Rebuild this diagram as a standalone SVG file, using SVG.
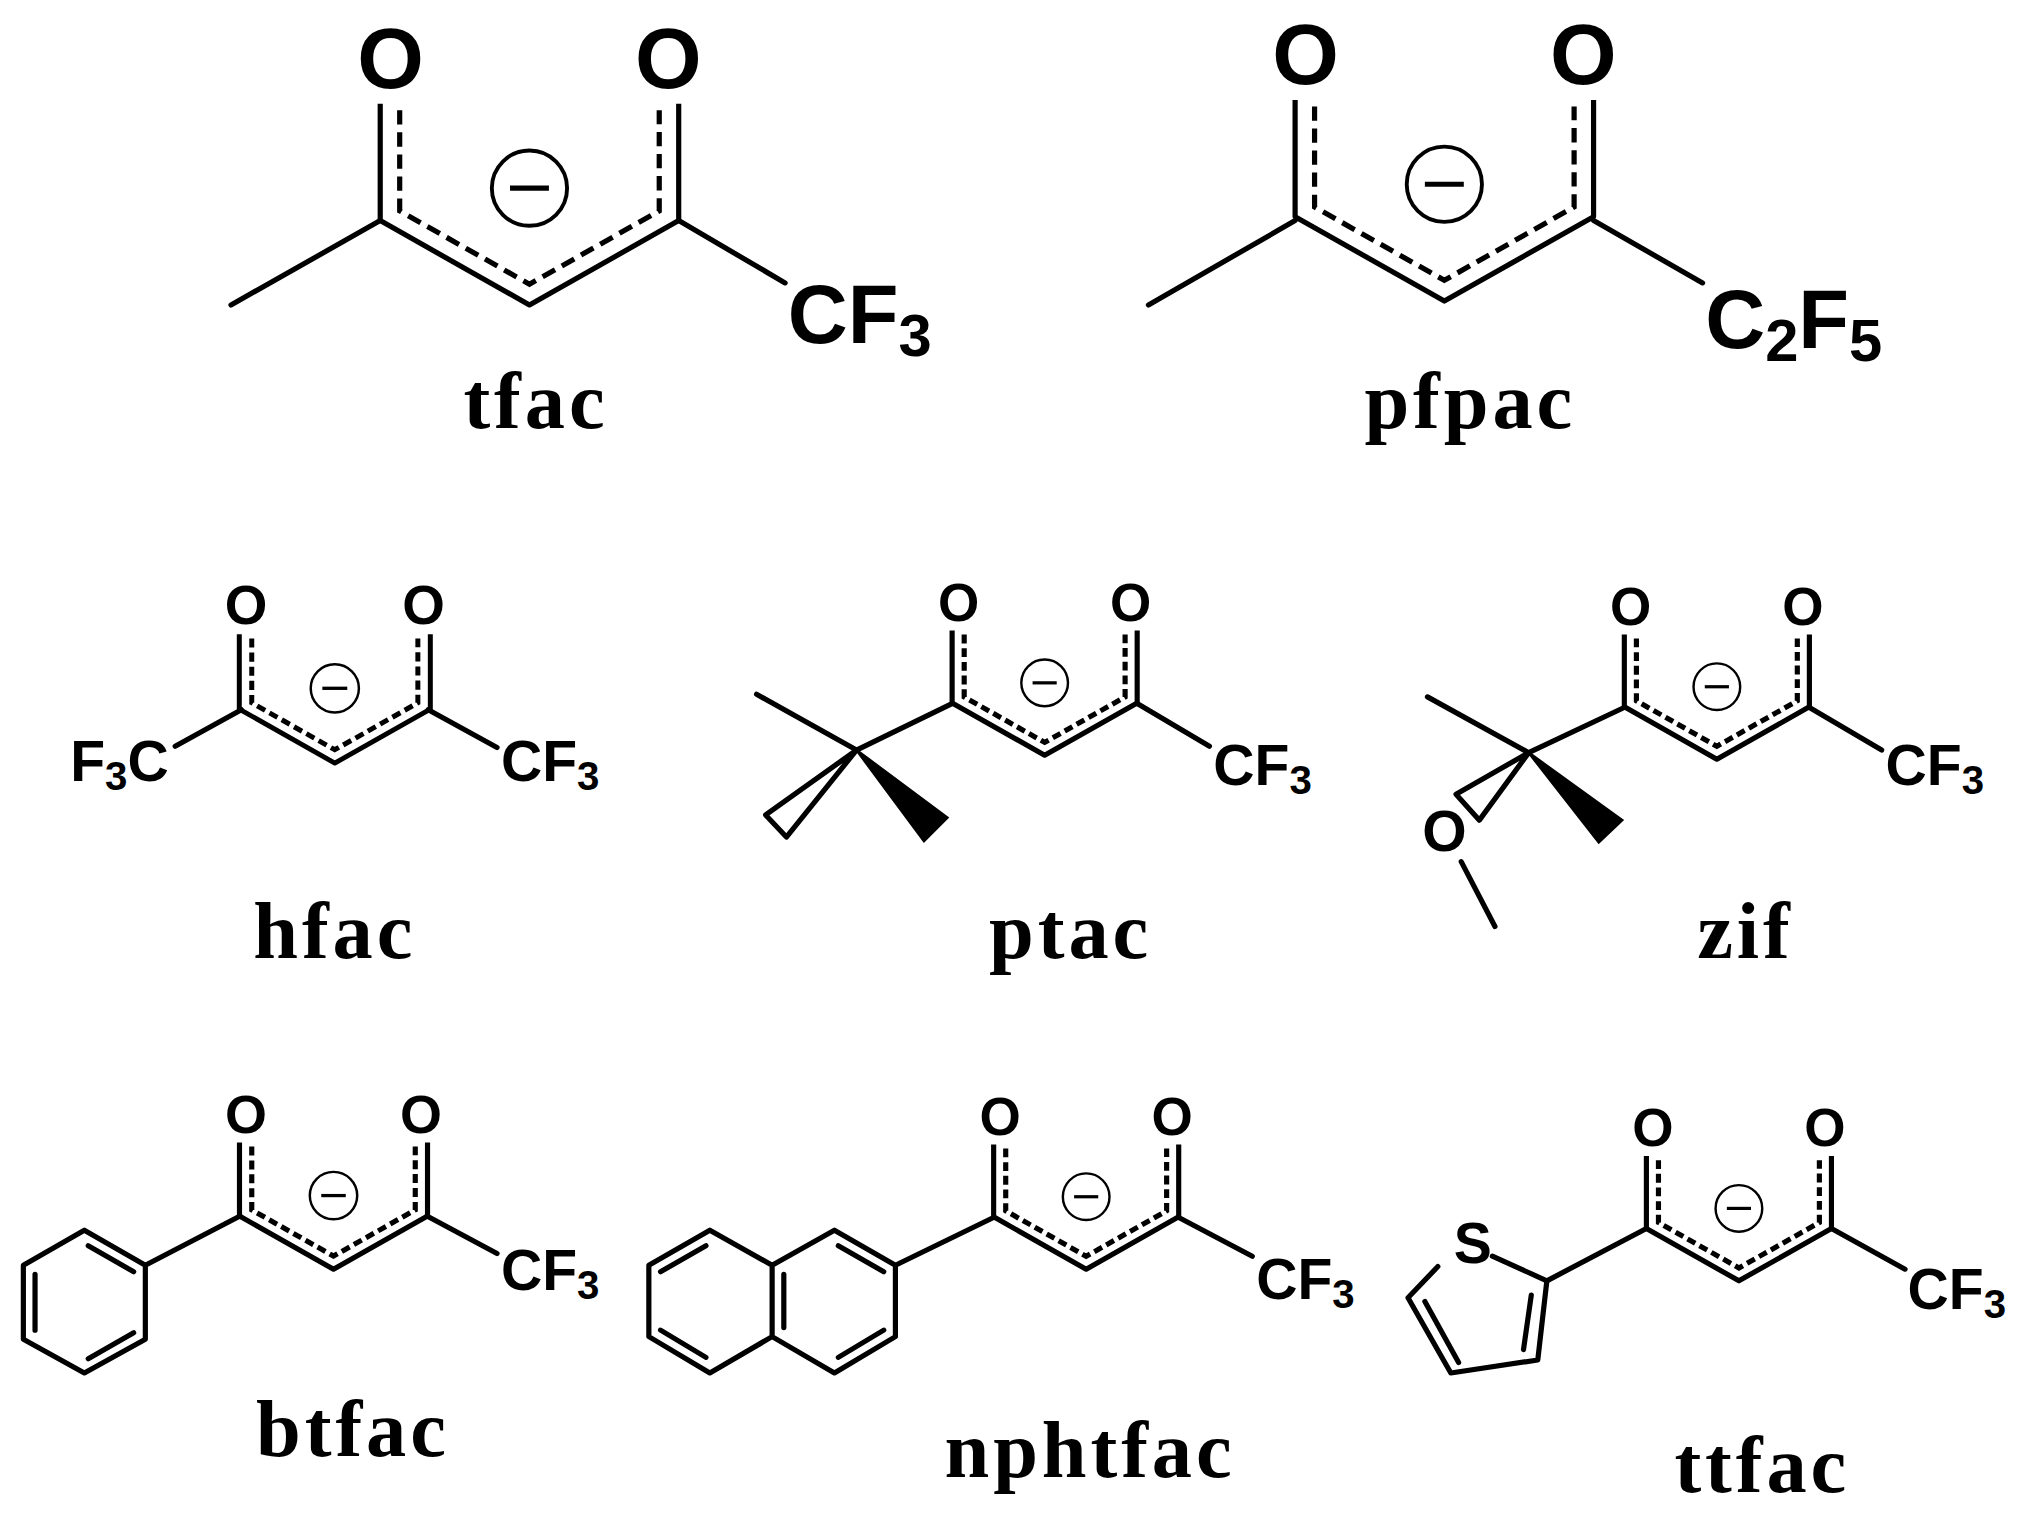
<svg xmlns="http://www.w3.org/2000/svg" xmlns:xlink="http://www.w3.org/1999/xlink" width="2027" height="1515" viewBox="0 0 2027 1515">
<style>
.b{fill:none;stroke:#000;stroke-width:4;stroke-linecap:round;stroke-linejoin:round}
.w{fill:#000;stroke:#000;stroke-width:2}
.a{font-family:"Liberation Sans",Arial,sans-serif;font-weight:bold;fill:#000}
.l{font-family:"Liberation Serif","Times New Roman",serif;font-weight:bold;font-size:62px;letter-spacing:3px;text-anchor:middle;fill:#000}
</style>
<defs>
<g id="core">
<path d="M-115,-155 L-115,-65 L0,0 L115,-65 L115,-155" fill="none" stroke="#000" stroke-linejoin="round"/>
<path d="M-100,-150 L-100,-72.5 L0,-16 L100,-72.5 L100,-150" fill="none" stroke="#000" stroke-dasharray="11 6"/>
<circle cx="0" cy="-90" r="29" fill="none" stroke="#000" stroke-width="3"/>
<line x1="-15" y1="-90" x2="15" y2="-90" stroke="#000" stroke-width="4"/>
<text x="-107" y="-167" text-anchor="middle" font-family="Liberation Sans,Arial,sans-serif" font-weight="bold" font-size="66">O</text>
<text x="107" y="-167" text-anchor="middle" font-family="Liberation Sans,Arial,sans-serif" font-weight="bold" font-size="66">O</text>
</g>
</defs>
<rect width="2027" height="1515" fill="#fff"/>
<g transform="scale(1.2977)">
<g id="tfac">
<use xlink:href="#core" transform="translate(408,235)" stroke-width="4"/>
<text class="a" x="607" y="264" font-size="64">CF<tspan font-size="46" dy="10">3</tspan></text>
<text class="l" x="413" y="330">tfac</text>
</g>
<g id="pfpac">
<use xlink:href="#core" transform="translate(1113,232)" stroke-width="4"/>
<text class="a" x="1314" y="268" font-size="64">C<tspan font-size="46" dy="10">2</tspan><tspan dy="-10">F</tspan><tspan font-size="46" dy="10">5</tspan></text>
<text class="l" x="1133" y="330">pfpac</text>
</g>
<g id="hfac">
<use xlink:href="#core" transform="translate(258,588) scale(0.64)" stroke-width="6"/>
<text class="a" x="130" y="602" font-size="44" text-anchor="end">F<tspan font-size="31" dy="7">3</tspan><tspan dy="-7">C</tspan></text>
<text class="a" x="386" y="602" font-size="44">CF<tspan font-size="31" dy="7">3</tspan></text>
<text class="l" x="258" y="738">hfac</text>
</g>
<g id="ptac">
<use xlink:href="#core" transform="translate(805,582) scale(0.62)" stroke-width="6.4"/>
<polygon class="w" points="660,578 712,648 730,630"/>
<polygon class="b" points="660,578 590,628 606,645"/>
<text class="a" x="935" y="605" font-size="44">CF<tspan font-size="31" dy="7">3</tspan></text>
<text class="l" x="825" y="738">ptac</text>
</g>
<g id="zif">
<use xlink:href="#core" transform="translate(1323,585) scale(0.62)" stroke-width="6.4"/>
<polygon class="w" points="1178,580 1232,649 1250,632"/>
<polygon class="b" points="1178,580 1122,612 1140,632"/>
<text class="a" x="1113" y="656" font-size="44" text-anchor="middle">O</text>
<text class="a" x="1453" y="605" font-size="44">CF<tspan font-size="31" dy="7">3</tspan></text>
<text class="l" x="1345" y="738">zif</text>
</g>
<g id="btfac">
<use xlink:href="#core" transform="translate(257,978) scale(0.63)" stroke-width="6.3"/>
<path class="b" d="M65,948 L112,975 L112,1032 L65,1058 L18,1032 L18,975 Z"/>
<path class="b" d="M68,960 L103,980 M27,982 L27,1025 M103,1027 L68,1047"/>
<text class="a" x="386" y="994" font-size="44">CF<tspan font-size="31" dy="7">3</tspan></text>
<text class="l" x="272" y="1122">btfac</text>
</g>
<g id="nphtfac">
<use xlink:href="#core" transform="translate(837,978) scale(0.62)" stroke-width="6.4"/>
<path class="b" d="M595,975 L547,948 L500,975 L500,1030 L547,1058 L595,1030 Z M595,975 L643,948 L690,975 L690,1030 L643,1058 L595,1030"/>
<path class="b" d="M509,980 L544,960 M509,1025 L544,1046 M604,982 L604,1023 M646,960 L681,980 M681,1025 L646,1046"/>
<text class="a" x="968" y="1001" font-size="44">CF<tspan font-size="31" dy="7">3</tspan></text>
<text class="l" x="840" y="1138">nphtfac</text>
</g>
<g id="ttfac">
<use xlink:href="#core" transform="translate(1340,987) scale(0.62)" stroke-width="6.4"/>
<text class="a" x="1135" y="973" font-size="44" text-anchor="middle">S</text>
<path class="b" d="M1150,968 L1192,987 L1185,1048 L1118,1058 L1085,1000 L1108,976"/>
<path class="b" d="M1180,998 L1174,1040 M1098,1003 L1124,1050"/>
<text class="a" x="1470" y="1009" font-size="44">CF<tspan font-size="31" dy="7">3</tspan></text>
<text class="l" x="1358" y="1150">ttfac</text>
</g>
<g id="connectors" class="b">
<path d="M178,235 L293,170 M523,170 L605,218"/>
<path d="M885,235 L998,170 M1228,170 L1312,218"/>
<path d="M186,547 L135,575 M330,547 L383,576"/>
<path d="M734,542 L660,578 L583,535 M876,542 L932,575"/>
<path d="M1252,545 L1178,580 L1100,537 M1394,545 L1450,578 M1126,664 L1152,714"/>
<path d="M185,937 L112,975 M329,937 L383,966"/>
<path d="M766,938 L690,975 M908,938 L965,968"/>
<path d="M1268,947 L1192,987 M1412,947 L1468,978"/>
</g>
</g>
</svg>
